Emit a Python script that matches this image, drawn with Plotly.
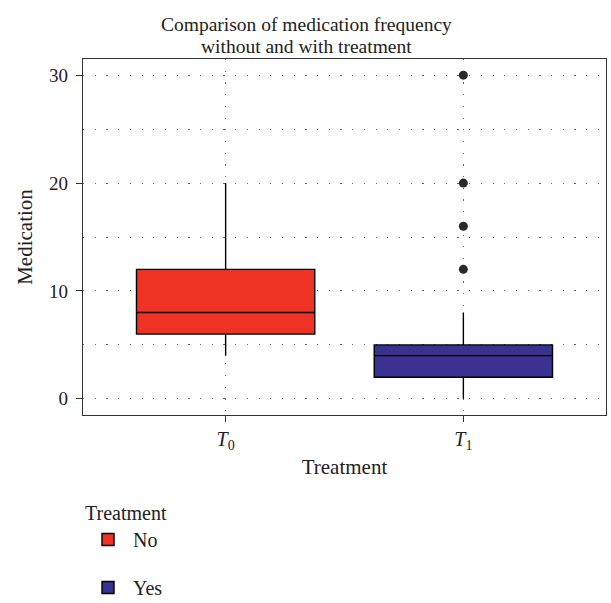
import plotly.graph_objects as go

groups = ["No", "Yes"]
positions = [1, 2]
tick_labels = ["<i>T</i><sub>0</sub>", "<i>T</i><sub>1</sub>"]
q1 = [6, 2]
median = [8, 4]
q3 = [12, 5]
lower = [4, 0]
upper = [20, 8]
colors = ["#EE3224", "#3B3190"]
outliers_x = [2, 2, 2, 2]
outliers_y = [12, 16, 20, 30]
title_lines = ["Comparison of medication frequency", "without and with treatment"]

FONT = "Liberation Serif"
fig = go.Figure()
for i, g in enumerate(groups):
    fig.add_trace(go.Box(
        x=[positions[i]], q1=[q1[i]], median=[median[i]], q3=[q3[i]],
        lowerfence=[lower[i]], upperfence=[upper[i]],
        name=g, fillcolor=colors[i], line=dict(color="black", width=1.4),
        whiskerwidth=0, width=0.75, boxpoints=False, legendgroup=g,
    ))
fig.add_trace(go.Scatter(
    x=outliers_x, y=outliers_y, mode="markers",
    marker=dict(color="#2a2a2a", size=9), showlegend=False,
))

for line, shift in zip(title_lines, [35, 13]):
    fig.add_annotation(text=line, xref="paper", yref="paper", x=0.4264, y=1,
                       xanchor="center", yanchor="middle", yshift=shift,
                       showarrow=False, font=dict(size=19.5, family=FONT, color="#222"))

grid = dict(gridcolor="#666666", gridwidth=1, griddash="1.2px,10.5px")
fig.update_layout(
    width=611, height=603,
    margin=dict(l=83, r=5, t=59, b=188, autoexpand=False),
    plot_bgcolor="white", paper_bgcolor="white",
    font=dict(family=FONT, size=18, color="#222"),
    xaxis=dict(range=[0.4, 2.6], tickvals=positions, ticktext=tick_labels,
               showline=True, linecolor="#333", linewidth=1.2, mirror=True,
               ticks="outside", ticklen=6, tickcolor="#333",
               tickfont=dict(size=20),
               title=dict(text="Treatment", font=dict(size=21), standoff=7),
               zeroline=False, showgrid=True, **grid),
    yaxis=dict(range=[-1.5, 31.5], tickvals=[0, 10, 20, 30],
               showline=True, linecolor="#333", linewidth=1.2, mirror=True,
               ticks="outside", ticklen=6, tickcolor="#333", ticklabelstandoff=4,
               tickfont=dict(size=19),
               title=dict(text="Medication", font=dict(size=21), standoff=10),
               zeroline=False, showgrid=True,
               minor=dict(tickvals=[5, 15, 25], showgrid=True, gridcolor="#666666",
                          gridwidth=1, griddash="1.2px,10.5px", ticks=""),
               **grid),
    legend=dict(x=0.0, xanchor="left", y=-0.222, yanchor="top",
                title=dict(text="Treatment", font=dict(size=20)),
                itemwidth=40,
                traceorder="grouped", tracegroupgap=19, font=dict(size=20)),
    showlegend=True,
)
fig.write_html("out.html", config={"displayModeBar": False},
               post_script="document.body.style.margin='0';")
